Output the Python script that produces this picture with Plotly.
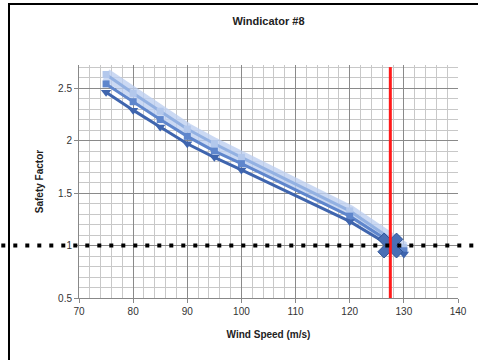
import plotly.graph_objects as go

wind_speed = [75, 80, 85, 90, 95, 100, 120, 130]
sf_low = [2.46, 2.29, 2.13, 1.97, 1.84, 1.72, 1.23, 0.92]
sf_mid = [2.54, 2.37, 2.20, 2.04, 1.90, 1.78, 1.28, 0.95]
sf_high = [2.63, 2.45, 2.28, 2.11, 1.97, 1.84, 1.33, 0.98]
limit_speed = 127.5
limit_sf = 1.0
x_ticks = [70, 80, 90, 100, 110, 120, 130, 140]
y_ticks = [0.5, 1, 1.5, 2, 2.5]

fig = go.Figure()

# soft glow
fig.add_trace(go.Scatter(x=wind_speed, y=sf_high, mode="lines",
                         line=dict(color="rgba(190,208,240,0.8)", width=12),
                         hoverinfo="skip", showlegend=False))
fig.add_trace(go.Scatter(x=wind_speed, y=sf_high, mode="lines+markers",
                         line=dict(color="#93B1E2", width=3),
                         marker=dict(symbol="square", size=7, color="#B3C8EC"),
                         showlegend=False))
fig.add_trace(go.Scatter(x=wind_speed, y=sf_mid, mode="lines+markers",
                         line=dict(color="#5F86CC", width=3),
                         marker=dict(symbol="square", size=7, color="#5F86CC"),
                         showlegend=False))
fig.add_trace(go.Scatter(x=wind_speed, y=sf_low, mode="lines+markers",
                         line=dict(color="#3F65AE", width=3),
                         marker=dict(symbol="triangle-down", size=9, color="#3F65AE"),
                         showlegend=False))
fig.add_trace(go.Scatter(x=[limit_speed], y=[limit_sf], mode="markers",
                         marker=dict(symbol="x", size=22, color="#4A6FB5",
                                     line=dict(color="#2F5597", width=1)),
                         showlegend=False))

# red vertical limit line
fig.add_shape(type="line", xref="x", yref="y", x0=limit_speed, x1=limit_speed,
              y0=0.5, y1=2.7, line=dict(color="#FF1A1A", width=3))
# dotted horizontal safety line across full width
fig.add_shape(type="line", xref="paper", yref="y", x0=-0.3, x1=1.1,
              y0=limit_sf, y1=limit_sf, line=dict(color="black", width=4, dash="4px,8px"))
# outer frame
fig.add_shape(type="rect", xref="paper", yref="paper", x0=-0.1847, x1=1.08,
              y0=-0.3, y1=1.2618, line=dict(color="black", width=2))

fig.update_layout(
    width=478, height=360,
    margin=dict(l=79, r=20, t=65, b=62),
    paper_bgcolor="white", plot_bgcolor="white",
    title=dict(text="<b>Windicator #8</b>", x=0.5, xanchor="center", y=0.94, yanchor="middle",
               xref="paper", font=dict(family="Liberation Sans, Arial", size=11, color="#222")),
    font=dict(family="Liberation Sans, Arial", size=10, color="#333"),
)
fig.update_xaxes(range=[70, 140], tickvals=x_ticks, showgrid=True, gridcolor="#8a8a8a",
                 gridwidth=1, ticks="outside", ticklen=4, tickcolor="#888",
                 showline=True, linecolor="#888", zeroline=False,
                 minor=dict(dtick=2, tick0=70, showgrid=True, gridcolor="#c8c8c8", gridwidth=1),
                 title=dict(text="<b>Wind Speed (m/s)</b>", font=dict(size=10, color="#222"), standoff=14))
fig.update_yaxes(range=[0.5, 2.72], tickvals=y_ticks, showgrid=True, gridcolor="#8a8a8a",
                 gridwidth=1, ticks="outside", ticklen=4, tickcolor="#888",
                 showline=True, linecolor="#888", zeroline=False,
                 minor=dict(dtick=0.1, tick0=0.5, showgrid=True, gridcolor="#c8c8c8", gridwidth=1),
                 title=dict(text="<b>Safety Factor</b>", font=dict(size=10, color="#222"), standoff=12))

fig.write_html("out.html", config={"displayModeBar": False},
               post_script="document.body.style.margin='0px';")
